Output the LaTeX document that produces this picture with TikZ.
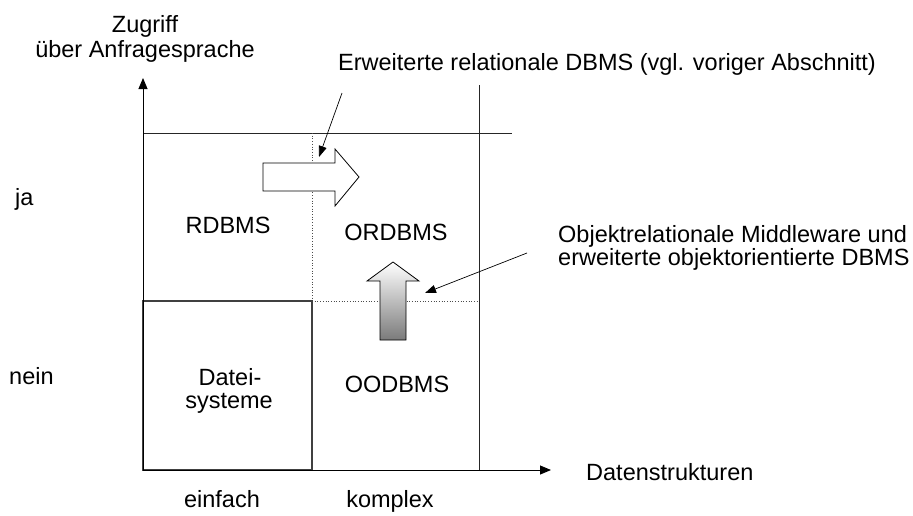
\documentclass[tikz,border=0pt]{standalone}
\usepackage{fontspec}
\setmainfont{Liberation Sans}
\usetikzlibrary{arrows.meta}
\begin{document}
\begin{tikzpicture}[x=1pt,y=-1pt,
  lbl/.style={inner sep=0pt,font=\fontsize{23.5}{25}\selectfont},
  gridline/.style={line width=0.9pt,draw=black!85},
  dotline/.style={line width=0.7pt,draw=black!70,dotted},
  axis/.style={line width=0.9pt,-{Triangle[length=11pt,width=9pt]}},
  leader/.style={line width=0.7pt,-{Triangle[length=11pt,width=8pt]}},
  bigarrow/.style={line width=0.8pt,draw=black}]
\useasboundingbox (0,0) rectangle (913,515);
% coordinates
\coordinate (O) at (143,470);
\coordinate (Ytip) at (143,78);
\coordinate (Xtip) at (551,470);
% grid lines
\draw[gridline] (143,133) -- (512,133);
\draw[gridline] (479,85) -- (479,470);
\draw[dotline] (312,133) -- (312,301);
\draw[dotline] (312,301) -- (479,301);
% Datei box
\draw[line width=1.4pt,draw=black!75] (143,301) rectangle (312,470);
% axes
\draw[axis] (O) -- (Ytip);
\draw[axis] (O) -- (Xtip);
% hollow right arrow
\filldraw[bigarrow,fill=white] (263,163) -- (335,163) -- (335,149) -- (359,177)
  -- (335,206) -- (335,191) -- (263,191) -- cycle;
% shaded up arrow
\draw[bigarrow,top color=white,bottom color=black!52]
  (380,340) -- (380,281) -- (367,281) -- (393,262) -- (419,281) -- (406,281)
  -- (406,340) -- cycle;
% texts
\node[lbl,anchor=base] (zug) at (145,32) {Zugriff};
\node[lbl,anchor=base] (anf) at (145,57) {über Anfragesprache};
\node[lbl,anchor=base west] (erw) at (338,70) {Erweiterte relationale DBMS (vgl. voriger Abschnitt)};
\node[lbl,anchor=base west] (ja) at (15,205) {ja};
\node[lbl,anchor=base west] (nein) at (9,384) {nein};
\node[lbl,anchor=base] (rdbms) at (228,233) {RDBMS};
\node[lbl,anchor=base] (ordbms) at (396,240) {ORDBMS};
\node[lbl,anchor=base west] (obj1) at (558,242) {Objektrelationale Middleware und};
\node[lbl,anchor=base west] (obj2) at (558,265) {erweiterte objektorientierte DBMS};
\node[lbl,anchor=base] (datei1) at (230,385) {Datei-};
\node[lbl,anchor=base] (datei2) at (229,408) {systeme};
\node[lbl,anchor=base] (oodbms) at (397,392) {OODBMS};
\node[lbl,anchor=base west] (daten) at (586,480) {Datenstrukturen};
\node[lbl,anchor=base] (einf) at (222,507) {einfach};
\node[lbl,anchor=base] (kompl) at (390,507) {komplex};
% leaders
\coordinate (l1s) at (342,93);
\coordinate (l1e) at (319,157);
\coordinate (l2s) at (527,253);
\coordinate (l2e) at (425,293);
\draw[leader] (l1s) -- (l1e);
\draw[leader] (l2s) -- (l2e);
\end{tikzpicture}
\end{document}
